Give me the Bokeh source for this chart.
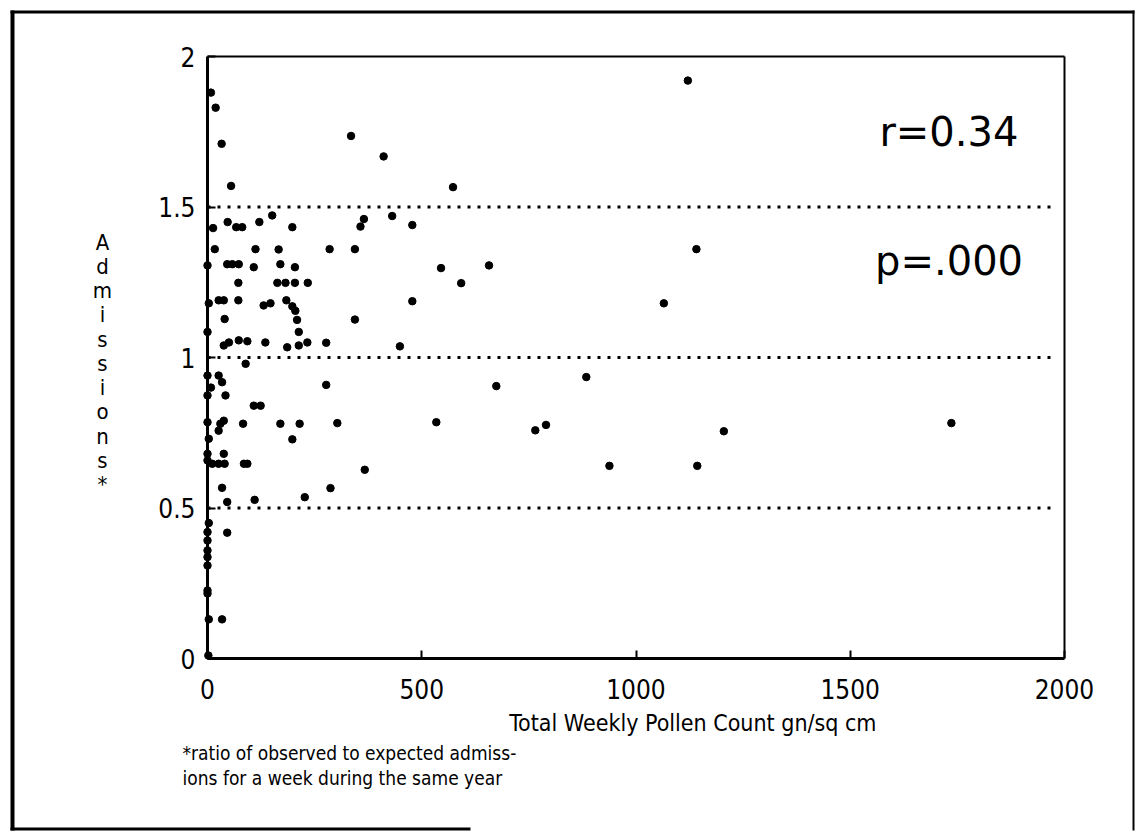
from bokeh.plotting import figure
from bokeh.models import Range1d, FixedTicker, Label, BoxAnnotation, NumeralTickFormatter
from bokeh.embed import file_html
from bokeh.resources import INLINE

# ---- data ----
pollen = [1121, 1141, 1065, 884, 765, 790, 1205, 1736, 938, 1143,
          335, 411, 573, 365, 357, 431, 478, 285, 344, 545, 657, 592, 478,
          344, 277, 449, 277, 674, 303, 534, 367, 287,
          8, 19, 33, 55, 13, 47, 67, 81, 121, 151, 198, 17, 112, 166,
          0, 46, 58, 73, 108, 170, 204, 72, 163, 182, 204, 234, 3, 26, 38, 72,
          131, 147, 184, 198, 205, 40, 209, 0, 213, 38, 50, 73, 93, 135, 186,
          213, 233, 89, 0, 26, 34, 8, 0, 42, 108, 124, 0, 30, 38, 26, 83, 170,
          215, 3, 198,
          0, 38, 0, 11, 26, 40, 85, 93, 34, 46, 110, 227, 3, 0, 46, 0, 0, 0,
          0, 0, 0, 3, 34, 2]
admissions = [1.92, 1.36, 1.18, 0.935, 0.758, 0.776, 0.755, 0.782, 0.64, 0.64,
              1.736, 1.668, 1.566, 1.46, 1.435, 1.47, 1.44, 1.36, 1.36, 1.297, 1.306, 1.247, 1.187,
              1.126, 1.049, 1.037, 0.909, 0.905, 0.782, 0.785, 0.627, 0.566,
              1.88, 1.83, 1.71, 1.57, 1.43, 1.45, 1.433, 1.433, 1.45, 1.472, 1.433, 1.36, 1.36, 1.359,
              1.306, 1.31, 1.31, 1.31, 1.30, 1.31, 1.30, 1.248, 1.248, 1.248, 1.248, 1.248, 1.18, 1.19, 1.19, 1.19,
              1.173, 1.18, 1.19, 1.17, 1.155, 1.128, 1.125, 1.085, 1.085, 1.04, 1.05, 1.057, 1.054, 1.05, 1.034,
              1.04, 1.05, 0.979, 0.94, 0.94, 0.918, 0.90, 0.874, 0.874, 0.84, 0.84, 0.785, 0.78, 0.79, 0.757, 0.78, 0.78,
              0.78, 0.73, 0.728,
              0.68, 0.68, 0.658, 0.647, 0.647, 0.647, 0.647, 0.647, 0.567, 0.52, 0.527, 0.536, 0.45, 0.42, 0.418, 0.392, 0.359, 0.337,
              0.309, 0.226, 0.216, 0.13, 0.13, 0.01]

x_ticks = [0, 500, 1000, 1500, 2000]
x_tick_labels = ["0", "500", "1000", "1500", "2000"]
y_ticks = [0, 0.5, 1, 1.5, 2]
y_tick_labels = ["0", "0.5", "1", "1.5", "2"]
ref_levels = [0.5, 1.0, 1.5]
stats_text = ["r=0.34", "p=.000"]
x_title = "Total Weekly Pollen Count gn/sq cm"
y_title = "Admissions*"
footnote = ["*ratio of observed to expected admiss-",
            "ions for a week during the same year"]

# ---- layout helpers (page pixels -> data units) ----
X0_PX, X_SCALE = 207.0, (1064.0 - 207.0) / 2000.0   # px per x unit
Y0_PX, Y_SCALE = 658.0, (658.0 - 56.0) / 2.0        # px per y unit
def ux(px):
    return (px - X0_PX) / X_SCALE
def vy(py):
    return (Y0_PX - py) / Y_SCALE

NARROW = "'Liberation Sans Narrow', 'DejaVu Sans Condensed', 'Noto Sans', sans-serif"
THIN = "'DejaVu Sans ExtraLight', 'DejaVu Sans', sans-serif"

W, H = 1140, 835          # the canvas starts at the page origin
p = figure(width=W, height=H, output_backend="svg", toolbar_location=None,
           x_range=Range1d(ux(0), ux(W)), y_range=Range1d(vy(H), vy(0)),
           min_border_left=0, min_border_right=0, min_border_top=0, min_border_bottom=0)
p.background_fill_color = "white"
p.border_fill_color = "white"
p.outline_line_color = None
p.grid.visible = False

xa, ya = p.xaxis[0], p.yaxis[0]
xa.fixed_location = 0
xa.bounds = (x_ticks[0], x_ticks[-1])
ya.fixed_location = 0
ya.bounds = (y_ticks[0], y_ticks[-1])
for ax in (xa, ya):
    ax.axis_line_width = 3
    ax.axis_line_color = "black"
    ax.major_tick_in = 8
    ax.major_tick_out = 0
    ax.major_tick_line_width = 2
    ax.minor_tick_line_color = None
    ax.major_label_text_font = NARROW
    ax.major_label_text_font_size = "26px"
    ax.major_label_text_color = "black"

xa.ticker = FixedTicker(ticks=x_ticks)
xa.major_label_overrides = {t: s for t, s in zip(x_ticks, x_tick_labels)}
xa.major_label_standoff = 20
ya.ticker = FixedTicker(ticks=y_ticks)
ya.formatter = NumeralTickFormatter(format="0.[0]")
ya.major_label_overrides = {t: s for t, s in zip(y_ticks, y_tick_labels)}
ya.major_label_standoff = 12

# top and right edges of the plot box
p.segment(x0=[x_ticks[0], x_ticks[-1]], y0=[y_ticks[-1], y_ticks[0]],
          x1=[x_ticks[-1], x_ticks[-1]], y1=[y_ticks[-1], y_ticks[-1]],
          line_color="black", line_width=2)

# dotted reference lines
p.segment(x0=[x_ticks[0]] * len(ref_levels), x1=[x_ticks[-1] - 25] * len(ref_levels),
          y0=ref_levels, y1=ref_levels, line_color="black", line_width=3, line_dash="3 7")

p.scatter(pollen, admissions, size=7.5, marker="circle", fill_color="black", line_color="black")

# statistics text
p.add_layout(Label(x=1568, y=1.75, text=stats_text[0], text_align="left", text_baseline="middle",
                   text_font=THIN, text_font_size="40px", text_color="black"))
p.add_layout(Label(x=1558, y=1.32, text=stats_text[1], text_align="left", text_baseline="middle",
                   text_font=THIN, text_font_size="40px", text_color="black"))

# stacked y title
p.add_layout(Label(x=ux(102), y=vy(229), text="\n".join(list(y_title)), text_align="center",
                   text_baseline="top", text_font=NARROW, text_font_size="22px",
                   text_line_height=0.97, text_color="black"))

# x title
p.add_layout(Label(x=ux(876), y=vy(722), text=x_title, text_align="right", text_baseline="middle",
                   text_font=NARROW, text_font_size="23px", text_color="black"))

# footnote
p.add_layout(Label(x=ux(182), y=vy(752), text=footnote[0], text_align="left", text_baseline="middle",
                   text_font=NARROW, text_font_size="19px", text_color="black"))
p.add_layout(Label(x=ux(182), y=vy(777), text=footnote[1], text_align="left", text_baseline="middle",
                   text_font=NARROW, text_font_size="19px", text_color="black"))

# outer frame of the page (decoration, bounded boxes)
def frame_edge(x0, x1, y0, y1):
    p.add_layout(BoxAnnotation(left=ux(x0), right=ux(x1), top=vy(y0), bottom=vy(y1),
                               fill_color="black", fill_alpha=1.0, line_alpha=0))

frame_edge(10, 14, 10, 830)     # left
frame_edge(10, 1134, 10, 13)    # top
frame_edge(1132, 1134, 10, 830) # right
frame_edge(10, 470, 827, 830)   # bottom (partial, as scanned)

open("out.html", "w").write(file_html(p, INLINE))
